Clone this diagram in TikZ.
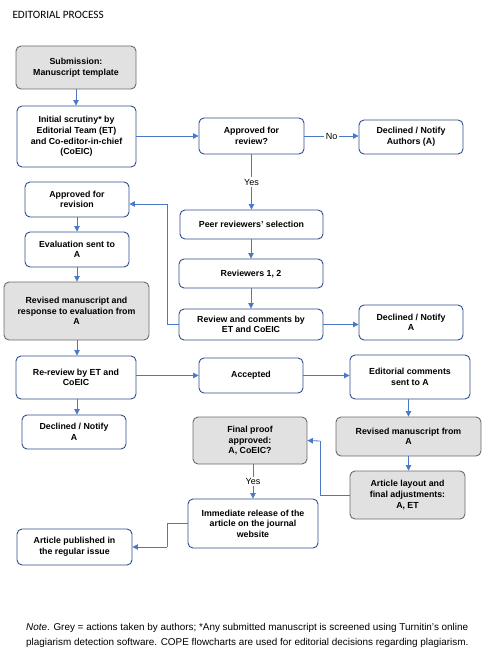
\documentclass[tikz,border=0pt]{standalone}
\usepackage{fontspec}
\setmainfont{Liberation Sans}
\newfontfamily\titlefont{Carlito}
\usetikzlibrary{arrows.meta}
\definecolor{bborder}{HTML}{2F4E8C}
\definecolor{lineblue}{HTML}{4A78C8}
\definecolor{gfill}{HTML}{E1E1E1}
\definecolor{gborder}{HTML}{6B6B6B}
\begin{document}
\begin{tikzpicture}[x=1pt,y=-1pt,
  box/.style={draw=bborder,line width=0.9pt,rounded corners=5pt,fill=white,align=center,
    font=\fontsize{8.8}{10.6}\selectfont\bfseries,inner sep=0pt},
  gbox/.style={box,draw=gborder,fill=gfill},
  arr/.style={draw=lineblue,line width=0.8pt,-{Triangle[width=5.5pt,length=5.5pt]}},
  ln/.style={draw=lineblue,line width=0.8pt},
  lbl/.style={fill=white,font=\fontsize{9}{10}\selectfont,inner sep=1.5pt}]
\useasboundingbox (0,0) rectangle (488,658);
\node[anchor=west,font=\titlefont\fontsize{11.2}{13}\selectfont] (title) at (9,15) {EDITORIAL PROCESS};
% boxes
\node[gbox,minimum width=120pt,minimum height=43pt] (sub) at (76,67.5) {Submission:\\Manuscript template};
\node[box,minimum width=119pt,minimum height=61pt] (init) at (76.5,136.5) {Initial scrutiny* by\\Editorial Team (ET)\\and Co-editor-in-chief\\(CoEIC)};
\node[box,minimum width=105pt,minimum height=36pt] (appr) at (251.5,136) {Approved for\\review?};
\node[box,minimum width=104pt,minimum height=34pt] (decl1) at (411,137) {Declined / Notify\\Authors (A)};
\node[box,minimum width=143pt,minimum height=29pt] (peer) at (251.5,224.5) {Peer reviewers\symbol{39} selection};
\node[box,minimum width=144pt,minimum height=29pt] (rev12) at (251,273.5) {Reviewers 1, 2};
\node[box,minimum width=144pt,minimum height=31pt] (revcom) at (251,324.5) {Review and comments by\\ET and CoEIC};
\node[box,minimum width=104pt,minimum height=35pt] (decl2) at (411,322.5) {Declined / Notify\\A};
\node[box,minimum width=104pt,minimum height=35pt] (apprrev) at (77,199.5) {Approved for\\revision};
\node[box,minimum width=104pt,minimum height=35pt] (evalsent) at (77,249.5) {Evaluation sent to\\A};
\node[gbox,minimum width=145pt,minimum height=58pt] (revresp) at (76.5,311) {Revised manuscript and\\response to evaluation from\\A};
\node[box,minimum width=120pt,minimum height=43pt] (rerev) at (76,377.5) {Re-review by ET and\\CoEIC};
\node[box,minimum width=104pt,minimum height=34pt] (decl3) at (74,432) {Declined / Notify\\A};
\node[box,minimum width=104pt,minimum height=35pt] (acc) at (251,375.5) {Accepted};
\node[box,minimum width=120pt,minimum height=44pt] (edcom) at (410,377) {Editorial comments\\sent to A};
\node[gbox,minimum width=145pt,minimum height=39pt] (revms) at (408.5,436.5) {Revised manuscript from\\A};
\node[gbox,minimum width=115pt,minimum height=48pt] (layout) at (407.5,495) {Article layout and\\final adjustments:\\A, ET};
\node[gbox,minimum width=114pt,minimum height=47pt] (final) at (250,440.5) {Final proof\\approved:\\A, CoEIC?};
\node[box,minimum width=130pt,minimum height=49pt] (immed) at (253,523.5) {Immediate release of the\\article on the journal\\website};
\node[box,minimum width=115pt,minimum height=36pt] (pub) at (74.5,547) {Article published in\\the regular issue};
% connectors
\draw[arr] (sub.south) -- (sub.south |- init.north);
\draw[arr] (appr.west -| init.east) -- (appr.west);
\draw[arr] (appr.east) -- node[lbl]{No} (appr.east -| decl1.west);
\draw[arr] (appr.south) -- node[lbl]{Yes} (appr.south |- peer.north);
\draw[arr] (peer.south -| rev12.north) -- (rev12.north);
\draw[arr] (rev12.south) -- (revcom.north);
\draw[arr] (revcom.east) -- (revcom.east -| decl2.west);
\coordinate (k1) at (167,204);
\draw[ln] (revcom.west) -| (k1);
\draw[arr] (k1) -- (k1 -| apprrev.east);
\draw[arr] (apprrev.south) -- (apprrev.south |- evalsent.north);
\draw[arr] (evalsent.south) -- (evalsent.south |- revresp.north);
\draw[arr] (revresp.south -| evalsent.south) -- (evalsent.south |- rerev.north);
\draw[arr] (rerev.south -| evalsent.south) -- (evalsent.south |- decl3.north);
\draw[arr] (acc.west -| rerev.east) -- (acc.west);
\draw[arr] (acc.east) -- (acc.east -| edcom.west);
\draw[arr] (edcom.south -| revms.north) -- (revms.north);
\draw[arr] (revms.south) -- (revms.south |- layout.north);
\coordinate (k2) at (320,441);
\draw[ln] (layout.west) -| (k2);
\draw[arr] (k2) -- (final.east);
\draw[arr] (final.south -| immed.north) -- node[lbl]{Yes} (immed.north);
\coordinate (k3) at (167,547);
\draw[ln] (immed.west) -| (k3);
\draw[arr] (k3) -- (pub.east);
% note
\node[anchor=north west,align=left,inner sep=0pt,font=\fontsize{9.9}{15}\selectfont] (note) at (26,623)
  {\textit{Note}. Grey = actions taken by authors; *Any submitted manuscript is screened using Turnitin\symbol{39}s online\\
   plagiarism detection software. COPE flowcharts are used for editorial decisions regarding plagiarism.};
\end{tikzpicture}
\end{document}
